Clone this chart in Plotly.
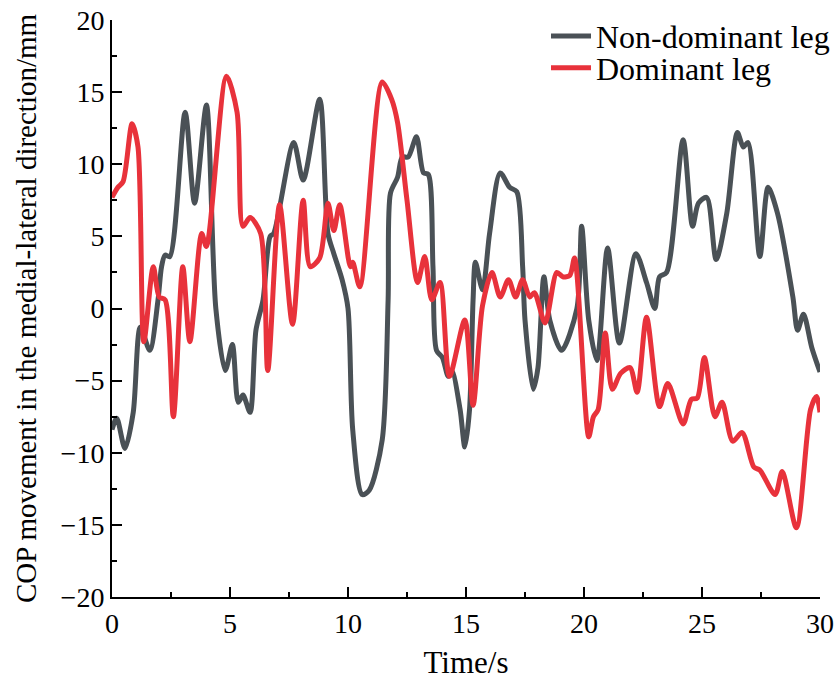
import plotly.graph_objects as go

# Non-dominant leg (gray)
t_nd = [0.0, 0.2, 0.55, 0.9, 1.2, 1.6, 1.95, 2.1, 2.25, 2.45, 3.1, 3.5, 4.0, 4.4, 4.8, 5.1, 5.35, 5.55,
        5.85, 6.1, 6.4, 6.7, 6.85, 7.7, 8.1, 8.8, 9.15, 9.4, 9.75, 10.0, 10.2, 10.6, 10.9, 11.45, 11.7,
        11.8, 12.1, 12.3, 12.55, 12.9, 13.2, 13.4, 13.6, 13.75, 14.0, 14.25, 14.4, 14.75, 14.95, 15.15,
        15.3, 15.4, 15.7, 16.0, 16.45, 16.85, 17.15, 17.4, 17.5, 17.85, 18.05, 18.3, 18.55, 19.05, 19.7,
        19.9, 20.2, 20.55, 21.0, 21.5, 22.2, 22.65, 23.0, 23.2, 23.5, 24.2, 24.6, 24.85, 25.2, 25.6, 26.05,
        26.5, 26.75, 26.95, 27.45, 27.8, 28.2, 28.85, 29.05, 29.3, 29.65, 30.0]
v_nd = [-8.4, -7.6, -9.7, -7.2, -1.3, -2.9, 0.6, 2.9, 3.7, 3.6, 13.6, 7.3, 14.1, 0.0, -4.3, -2.5, -6.5, -6.0,
        -7.2, -1.5, 0.6, 5.0, 5.2, 11.5, 8.9, 14.5, 5.2, 3.8, 2.0, 0.0, -8.4, -12.9, -12.6, -9.1, 0.6,
        8.0, 9.1, 10.5, 10.5, 11.9, 9.4, 9.3, 2.9, -2.9, -3.4, -4.7, -4.3, -7.0, -9.6, -7.0,
        0.6, 3.2, 1.3, 5.2, 9.4, 8.4, 8.1, 2.9, -0.8, -5.6, -4.1, 2.2, -0.8, -2.9, 0.0,
        5.7, -0.8, -3.6, 4.2, -2.4, 3.8, 1.8, 0.0, 2.2, 2.5, 11.7, 5.7, 7.3, 7.7, 3.4, 6.6,
        12.2, 11.2, 11.5, 3.6, 8.4, 6.6, 0.8, -1.5, -0.4, -2.7, -4.4]

# Dominant leg (red)
t_d = [0.0, 0.25, 0.47, 0.85, 1.1, 1.35, 1.75, 2.0, 2.25, 2.6, 3.0, 3.3, 3.8, 4.0, 4.85, 5.3, 5.55, 5.85,
       6.3, 6.6, 7.1, 7.65, 8.1, 8.4, 8.8, 9.15, 9.4, 9.65, 10.1, 10.2, 10.5, 11.45, 11.85, 12.1, 12.5,
       12.95, 13.25, 13.55, 13.9, 14.3, 14.95, 15.3, 15.7, 16.1, 16.45, 16.8, 17.1, 17.4, 17.7, 17.9,
       18.35, 18.85, 19.1, 19.4, 19.6, 20.2, 20.4, 20.6, 20.9, 21.2, 21.55, 21.95, 22.25, 22.65, 23.2,
       23.55, 24.2, 24.55, 24.8, 25.1, 25.55, 25.85, 26.3, 26.7, 27.2, 27.45, 28.1, 28.4, 29.0, 29.6,
       29.85, 30.0]
v_d = [7.7, 8.4, 8.8, 12.8, 11.2, -2.3, 2.9, 0.8, 0.6, -7.5, 2.9, -2.3, 5.2, 4.3, 16.1, 13.6, 5.7, 6.3,
       5.2, -4.3, 7.2, -1.1, 7.5, 2.9, 3.5, 7.3, 5.4, 7.2, 2.9, 3.2, 1.5, 15.7, 14.5, 12.9, 7.5,
       1.8, 3.6, 0.6, 1.8, -4.7, -0.8, -6.7, 0.2, 2.5, 0.8, 2.0, 0.8, 2.0, 0.8, 1.1,
       -1.0, 2.5, 2.2, 2.3, 3.5, -8.9, -7.5, -7.0, -1.7, -5.6, -4.5, -4.1, -5.8, -0.6, -6.8,
       -5.2, -8.0, -6.3, -6.2, -3.4, -7.5, -6.5, -9.2, -8.6, -11.0, -11.2, -12.9, -11.3, -15.2, -7.0,
       -6.1, -7.2]

x_ticks = [0, 5, 10, 15, 20, 25, 30]
y_ticks = [-20, -15, -10, -5, 0, 5, 10, 15, 20]

FONT = "Liberation Serif, Times New Roman, serif"

fig = go.Figure()
fig.add_trace(go.Scatter(x=t_nd, y=v_nd, mode="lines", name="Non-dominant leg", legend="legend",
                         line=dict(color="#4a5156", width=5, shape="spline", smoothing=0.8)))
fig.add_trace(go.Scatter(x=t_d, y=v_d, mode="lines", name="Dominant leg", legend="legend2",
                         line=dict(color="#e8323b", width=5, shape="spline", smoothing=0.8)))

axis_common = dict(showline=True, linecolor="black", linewidth=2, showgrid=False, zeroline=False,
                   ticks="inside", ticklen=10, tickwidth=2, tickcolor="black",
                   tickfont=dict(family=FONT, size=28, color="black"),
                   automargin=False, mirror=False)

fig.update_xaxes(range=[0, 30], tickvals=x_ticks, ticktext=[str(v) for v in x_ticks],
                 title=dict(text="Time/s", font=dict(family=FONT, size=31, color="black"), standoff=14),
                 minor=dict(ticks="inside", ticklen=5, tickwidth=2, tickcolor="black", dtick=2.5, tick0=0),
                 **axis_common)
fig.update_yaxes(range=[-20, 20], tickvals=y_ticks,
                 title=dict(text="COP movement in the medial-lateral direction/mm",
                            font=dict(family=FONT, size=29, color="black"), standoff=15),
                 minor=dict(ticks="inside", ticklen=5, tickwidth=2, tickcolor="black", dtick=2.5, tick0=0),
                 **axis_common)

leg_common = dict(xanchor="left", yanchor="middle", font=dict(family=FONT, size=32, color="black"),
                  bgcolor="rgba(0,0,0,0)", itemwidth=40)
fig.update_layout(
    width=836, height=684,
    margin=dict(l=112, r=16, t=20, b=87, autoexpand=False),
    paper_bgcolor="white", plot_bgcolor="white",
    font=dict(family=FONT, color="black"),
    showlegend=True,
    legend=dict(x=0.613, y=0.972, **leg_common),
    legend2=dict(x=0.613, y=0.917, **leg_common),
)

fig.write_html("out.html", config={"displayModeBar": False},
               post_script="document.body.style.margin='0';")
